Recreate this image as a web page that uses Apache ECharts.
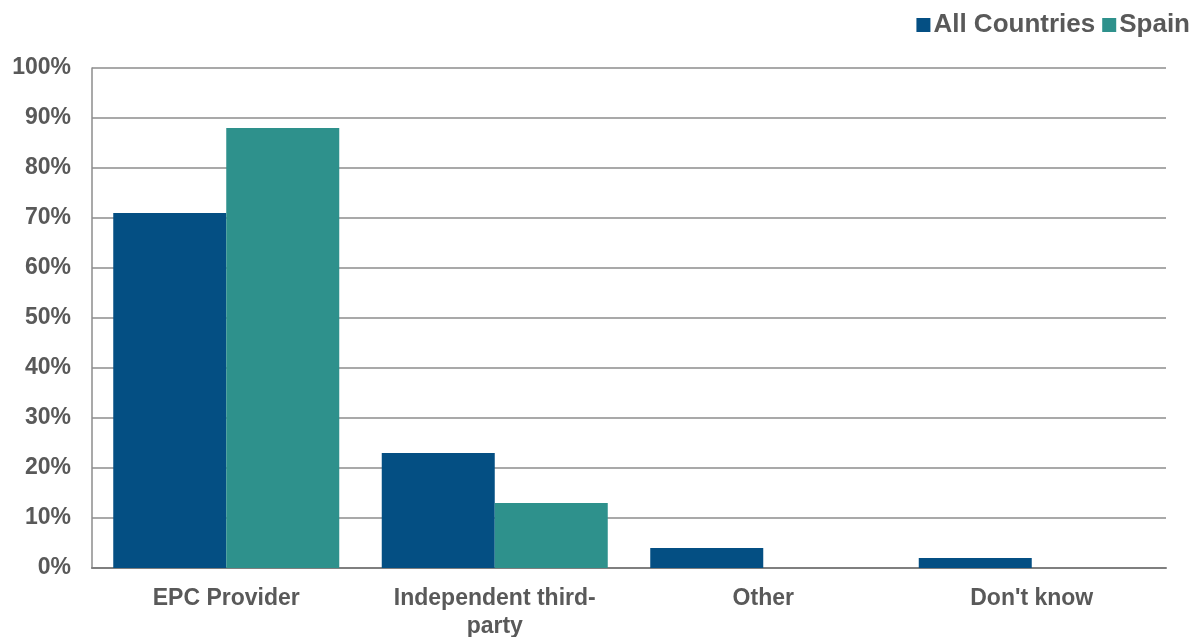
<!DOCTYPE html>
<html>
<head>
<meta charset="utf-8">
<script src="https://cdn.jsdelivr.net/npm/echarts@6/dist/echarts.min.js"></script>
<style>
html,body{margin:0;padding:0;background:#fff;}
#c{width:1203px;height:637px;}
</style>
</head>
<body>
<div id="c"></div>
<script>
const categories = ["EPC Provider", "Independent third-\nparty", "Other", "Don't know"];
const allCountries = [71, 23, 4, 2];
const spain = [88, 13, 0, 0];
const seriesNames = ["All Countries", "Spain"];
const yTicks = [0, 10, 20, 30, 40, 50, 60, 70, 80, 90, 100];

const textColor = "#595959";
const font = "'Liberation Sans', Arial, sans-serif";
const chart = echarts.init(document.getElementById('c'), null, {renderer: 'canvas'});
chart.setOption({
  animation: false,
  textStyle: {fontFamily: font},
  legend: {
    right: 8, top: 7,
    itemWidth: 14, itemHeight: 14, itemGap: 7,
    icon: 'rect',
    textStyle: {color: textColor, fontSize: 26, fontWeight: 'bold', fontFamily: font, padding: [0,0,0,-2]},
    data: seriesNames
  },
  grid: {left: 92, right: 37, top: 68, bottom: 69, containLabel: false, outerBoundsMode: 'none'},
  xAxis: {
    type: 'category',
    data: categories,
    axisLine: {lineStyle: {color: '#7f7f7f', width: 2}},
    axisTick: {show: false},
    axisLabel: {color: textColor, fontSize: 23, fontWeight: 'bold', fontFamily: font, margin: 17, lineHeight: 28, interval: 0}
  },
  yAxis: {
    type: 'value',
    min: yTicks[0], max: yTicks[yTicks.length - 1], interval: 10,
    axisLine: {show: true, lineStyle: {color: '#8c8c8c', width: 1.5}},
    axisTick: {show: false},
    splitLine: {lineStyle: {color: '#8c8c8c', width: 1.5}},
    axisLabel: {color: textColor, fontSize: 23, fontWeight: 'bold', fontFamily: font, margin: 21, formatter: '{value}%'}
  },
  series: [
    {name: seriesNames[0], type: 'bar', data: allCountries, barWidth: 113, barGap: '0%',
     itemStyle: {color: '#044f83'}},
    {name: seriesNames[1], type: 'bar', data: spain, barWidth: 113, barGap: '0%',
     itemStyle: {color: '#2e918c'}}
  ]
});
</script>
</body>
</html>
